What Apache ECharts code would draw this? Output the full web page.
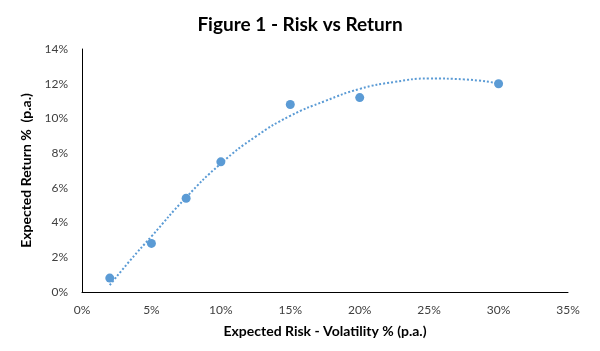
<!DOCTYPE html>
<html>
<head>
<meta charset="utf-8">
<script src="https://cdn.jsdelivr.net/npm/echarts@6/dist/echarts.min.js"></script>
<style>
  html, body { margin: 0; padding: 0; background: #fff; }
  #chart { width: 600px; height: 351px; }
</style>
</head>
<body>
<div id="chart"></div>
<script>
// risk / return points (%)
var riskValues = [2, 5, 7.5, 10, 15, 20, 30];
var returnValues = [0.8, 2.8, 5.4, 7.5, 10.8, 11.2, 12.0];

// dotted trendline
var trendRisk = [2, 3.5, 5, 7.5, 10, 12.5, 15, 17.5, 20, 22.5, 25, 27.5, 30];
var trendReturn = [0.4, 1.85, 3.2, 5.45, 7.4, 8.95, 10.15, 11.0, 11.7, 12.1, 12.3, 12.25, 12.02];

var xTicks = [0, 5, 10, 15, 20, 25, 30, 35];
var yTicks = [0, 2, 4, 6, 8, 10, 12, 14];

var blue = '#5B9BD5';
var font = 'Lato, "Open Sans", sans-serif';

var points = riskValues.map(function (x, i) { return [x, returnValues[i]]; });
var trend = trendRisk.map(function (x, i) { return [x, trendReturn[i]]; });

var chart = echarts.init(document.getElementById('chart'));
chart.setOption({
  animation: false,
  title: {
    text: 'Figure 1 - Risk vs Return',
    left: 'center',
    top: 10,
    textStyle: { fontFamily: font, fontSize: 19, fontWeight: 'bold', color: '#000' }
  },
  grid: { left: 82, right: 32, top: 49, bottom: 59 },
  xAxis: {
    type: 'value',
    min: xTicks[0],
    max: xTicks[xTicks.length - 1],
    interval: 5,
    name: 'Expected Risk - Volatility % (p.a.)',
    nameLocation: 'middle',
    nameGap: 32,
    nameTextStyle: { fontFamily: font, fontSize: 14, fontWeight: 'bold', color: '#000' },
    axisLine: { show: true, lineStyle: { color: '#000', width: 1 } },
    axisTick: { show: false },
    splitLine: { show: false },
    axisLabel: { formatter: '{value}%', margin: 12, fontFamily: font, fontSize: 12, color: '#404040' }
  },
  yAxis: {
    type: 'value',
    min: yTicks[0],
    max: yTicks[yTicks.length - 1],
    interval: 2,
    name: 'Expected Return %  (p.a.)',
    nameLocation: 'middle',
    nameGap: 47,
    nameTextStyle: { fontFamily: font, fontSize: 14, fontWeight: 'bold', color: '#000' },
    axisLine: { show: true, lineStyle: { color: '#000', width: 1 } },
    axisTick: { show: false },
    splitLine: { show: false },
    axisLabel: { formatter: '{value}%', margin: 14, fontFamily: font, fontSize: 12, color: '#404040' }
  },
  series: [
    {
      name: 'Trend',
      type: 'line',
      data: trend,
      smooth: true,
      showSymbol: false,
      lineStyle: { color: blue, width: 2, type: [2, 2] },
      z: 1
    },
    {
      name: 'Portfolios',
      type: 'scatter',
      data: points,
      symbolSize: 9,
      itemStyle: { color: blue, opacity: 1 },
      z: 2
    }
  ]
});
</script>
</body>
</html>
